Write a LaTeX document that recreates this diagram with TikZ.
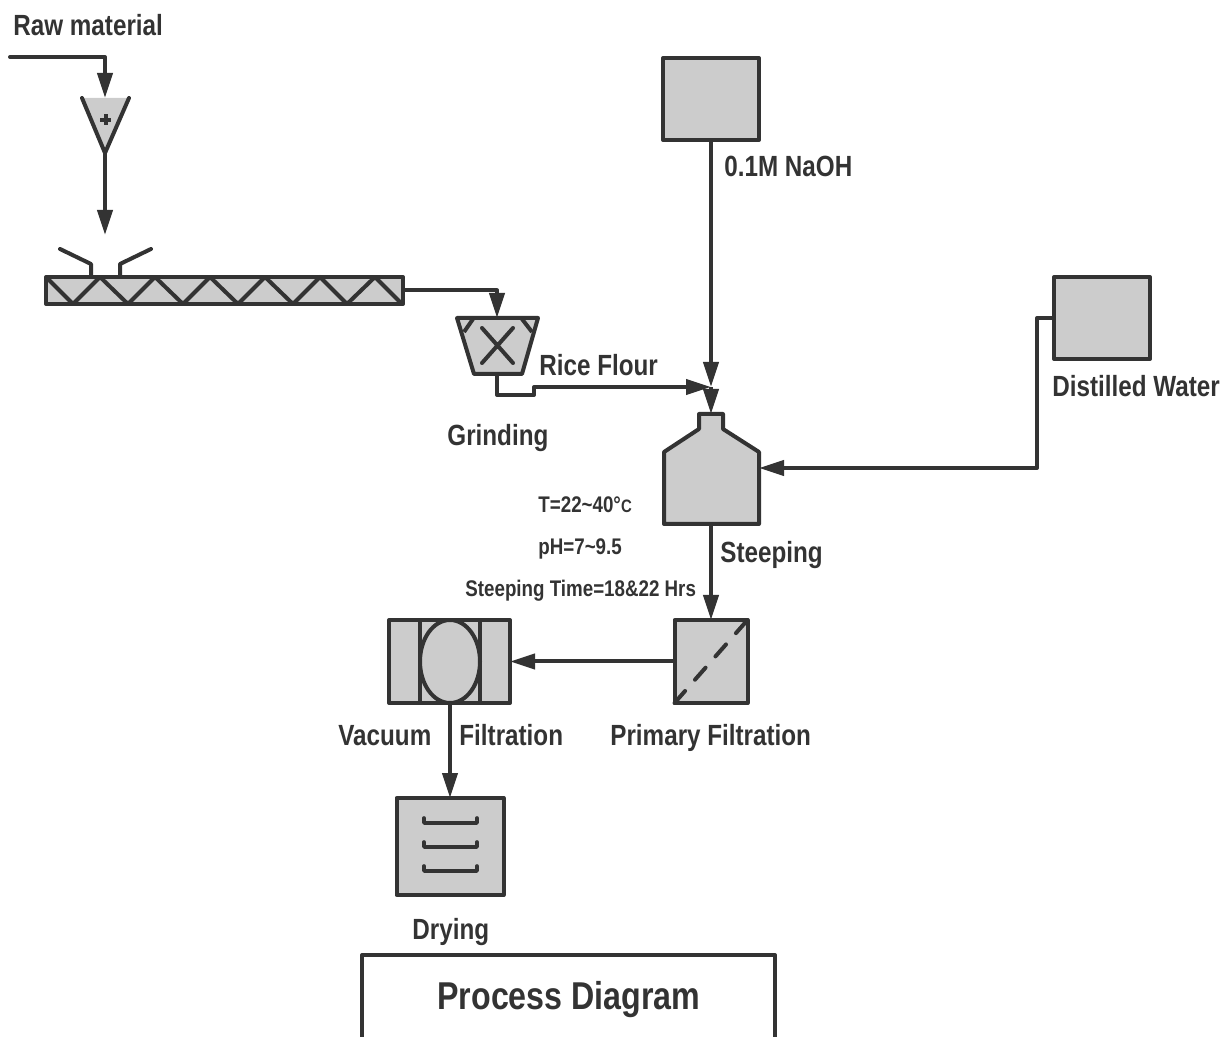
\documentclass[tikz,border=0pt]{standalone}
\usepackage{fontspec}
\setmainfont{Liberation Sans}[FakeStretch=0.83]
\usetikzlibrary{arrows.meta,shapes.geometric}
\definecolor{ink}{HTML}{333333}
\definecolor{unitgray}{HTML}{CCCCCC}
\tikzset{
  unit/.style={draw=ink,fill=unitgray,line width=2pt,rectangle,inner sep=0pt,outer sep=0pt,line join=round},
  pipe/.style={draw=ink,line width=2pt,line join=round},
  flow/.style={pipe,-{Triangle[length=12.5pt,width=7.5pt]}},
  lbl/.style={text=ink,inner sep=0pt,font=\fontsize{14.6}{16}\bfseries,anchor=base west},
  note/.style={text=ink,inner sep=0pt,font=\fontsize{11.3}{12}\bfseries,anchor=base west}
}
\begin{document}
\begin{tikzpicture}[x=0.5pt,y=-0.5pt]
\useasboundingbox (0,0) rectangle (1222,1037);
% labels
\node[lbl] (rawlbl) at (13,36) {Raw material};
\node[lbl] (naohlbl) at (724,177) {0.1M NaOH};
\node[lbl] (waterlbl) at (1052,397) {Distilled Water};
\node[lbl] (ricelbl) at (539,376) {Rice Flour};
\node[lbl] (grindlbl) at (447,446) {Grinding};
\node[lbl] (steeplbl) at (720,563) {Steeping};
\node[lbl] (vaclbl) at (338,745) {Vacuum};
\node[lbl] (vacfiltlbl) at (459,745) {Filtration};
\node[lbl] (primlbl) at (610,745) {Primary Filtration};
\node[lbl] (drylbl) at (412,939) {Drying};
\node[note] (templbl) at (538,513) {T=22\textasciitilde40°{\fontsize{9}{10}\selectfont C}};
\node[note] (phlbl) at (538,555) {pH=7\textasciitilde9.5};
\node[note] (timelbl) at (465,597) {Steeping Time=18\&22 Hrs};
\node[text=ink,inner sep=0pt,font=\fontsize{19.4}{22}\bfseries,anchor=base west] (titlelbl) at (437,1009) {Process Diagram};
% boxes
\node[unit,minimum width=48pt,minimum height=41pt] (naoh) at (711,99) {};
\node[unit,minimum width=48pt,minimum height=41pt] (water) at (1102,318) {};
\node[unit,minimum width=36.5pt,minimum height=41.5pt] (primary) at (711,661.5) {};
\node[unit,minimum width=60.5pt,minimum height=41.5pt] (vacuum) at (449.5,661.5) {};
\node[unit,minimum width=53.5pt,minimum height=48.5pt] (dryer) at (450,846.5) {};
\node[unit,minimum width=178.5pt,minimum height=13.5pt] (screw) at (224.5,290.5) {};
% hopper
\filldraw[pipe,fill=unitgray,line cap=round] (82,98) -- (105,153) -- (129,98);
\coordinate (hoppertop) at (105,98);
\coordinate (hoppertip) at (105,153);
\draw[ink,line width=2pt] (100,120) -- (111,120) (105.5,114.5) -- (105.5,125.5);
% screw conveyor
\draw[pipe] (46,277) -- (73,304) -- (100,277) -- (128,304) -- (155,277) -- (183,304) -- (210,277) -- (238,304)
  -- (265,277) -- (293,304) -- (320,277) -- (347,304) -- (375,277) -- (402,304);
\draw[pipe,line cap=round] (60,249) -- (91,264) -- (91,277);
\draw[pipe,line cap=round] (151,249) -- (120,264) -- (120,277);
% grinder
\filldraw[pipe,fill=unitgray] (457,318) -- (538,318) -- (522,374) -- (474,374) -- cycle;
\coordinate (grindtop) at (497,318);
\coordinate (grindout) at (497,374);
\draw[pipe] (473,319) -- (464,332) (522,319) -- (532,332);
\draw[pipe,line cap=round] (482,328) -- (513,363) (513,328) -- (482,363);
% steeping vessel
\filldraw[pipe,fill=unitgray] (699,414) -- (723,414) -- (723,429) -- (759,452) -- (759,524) -- (664,524) -- (664,452) -- (699,429) -- cycle;
\coordinate (steeptop) at (711,414);
\coordinate (steepright) at (759,468);
\coordinate (steepout) at (711,524);
% primary filter
\draw[ink,line width=2pt,line cap=round,dash pattern=on 8pt off 7.5pt] (primary.south west) -- (primary.north east);
% vacuum filter
\draw[pipe] (420,620) -- (420,703) (480,620) -- (480,703);
\node[unit,ellipse,minimum width=30pt,minimum height=41.5pt] (drum) at (450,661.5) {};
% dryer trays
\foreach \ty in {823,847,871}{
  \draw[pipe,line width=1.8pt,line cap=round] (424,\ty-5) -- (424,\ty) -- (477,\ty) -- (477,\ty-5);
}
% title box
\draw[pipe] (362,1037) -- (362,955) -- (775,955) -- (775,1037);
% connectors
\coordinate (rawin) at (10,57);
\coordinate (join) at (711,387);
\coordinate (waterbend) at (1037,318);
\draw[flow,line cap=round] (rawin) -- (105,57) -- (hoppertop);
\draw[flow] (hoppertip) -- (105,235);
\draw[flow] (screw.east) -- (497,290.5) -- (grindtop);
\draw[flow] (grindout) -- (497,395) -- (534,395) -- (534,387) -- (join);
\draw[flow] (naoh.south) -- (join);
\draw[flow] (join) -- (steeptop);
\draw[flow] (water.west) -- (waterbend) -- (1037,468) -- (steepright);
\draw[flow] (steepout) -- (primary.north);
\draw[flow] (primary.west) -- (vacuum.east);
\draw[flow] (drum.south) -- (dryer.north);
\end{tikzpicture}
\end{document}
